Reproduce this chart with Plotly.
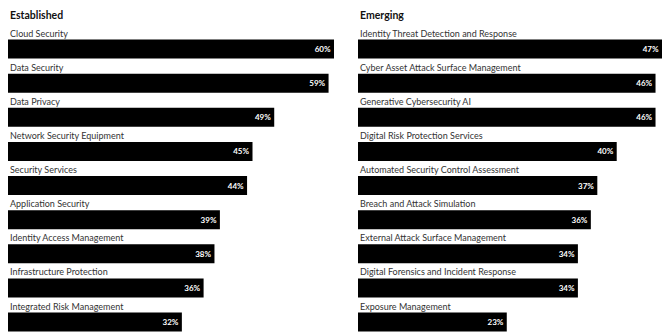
import plotly.graph_objects as go

est_cats = ["Cloud Security", "Data Security", "Data Privacy", "Network Security Equipment",
            "Security Services", "Application Security", "Identity Access Management",
            "Infrastructure Protection", "Integrated Risk Management"]
est_vals = [60, 59, 49, 45, 44, 39, 38, 36, 32]

emg_cats = ["Identity Threat Detection and Response", "Cyber Asset Attack Surface Management",
            "Generative Cybersecurity AI", "Digital Risk Protection Services",
            "Automated Security Control Assessment", "Breach and Attack Simulation",
            "External Attack Surface Management", "Digital Forensics and Incident Response",
            "Exposure Management"]
emg_vals = [47, 46, 46, 40, 37, 36, 34, 34, 23]

titles = ["Established", "Emerging"]

W, H = 663, 336
FONT = "Lato"

fig = go.Figure()

panels = [
    (est_cats, est_vals, "x", "y", [8 / W, 334 / W], [0, 60]),
    (emg_cats, emg_vals, "x2", "y2", [358 / W, 662 / W], [0, 47]),
]

annotations = []
for i, (cats, vals, xa, ya, dom, rng) in enumerate(panels):
    fig.add_trace(go.Bar(
        x=vals, y=cats, orientation="h", xaxis=xa, yaxis=ya,
        marker=dict(color="#000000", line=dict(width=0)),
        text=[f"{v}%" for v in vals], textposition="inside", insidetextanchor="end",
        textfont=dict(color="white", size=8, family=FONT, weight="bold"),
        hoverinfo="skip", showlegend=False, cliponaxis=False,
    ))
    for c in cats:
        annotations.append(dict(
            x=0, y=c, xref=xa, yref=ya, text=c, showarrow=False,
            xanchor="left", yanchor="middle", yshift=16, xshift=0,
            font=dict(size=9, color="#333333", family=FONT),
        ))
    annotations.append(dict(
        x=dom[0], y=1 - 15 / H, xref="paper", yref="paper", text=titles[i],
        showarrow=False, xanchor="left", yanchor="middle",
        font=dict(size=10.5, color="#111111", family=FONT, weight="bold"),
    ))
    axkey = "xaxis" if xa == "x" else "xaxis2"
    aykey = "yaxis" if ya == "y" else "yaxis2"
    fig.layout[axkey] = dict(domain=dom, range=rng, visible=False, fixedrange=True,
                             anchor=ya)
    fig.layout[aykey] = dict(domain=[0, 1], range=[8.41, -1.437], visible=False,
                             type="category", categoryorder="array", categoryarray=cats,
                             anchor=xa)

fig.update_layout(
    width=W, height=H, margin=dict(l=0, r=0, t=0, b=0),
    paper_bgcolor="white", plot_bgcolor="white",
    bargap=0.443, annotations=annotations,
    font=dict(family=FONT),
)

fig.write_html("out.html")
